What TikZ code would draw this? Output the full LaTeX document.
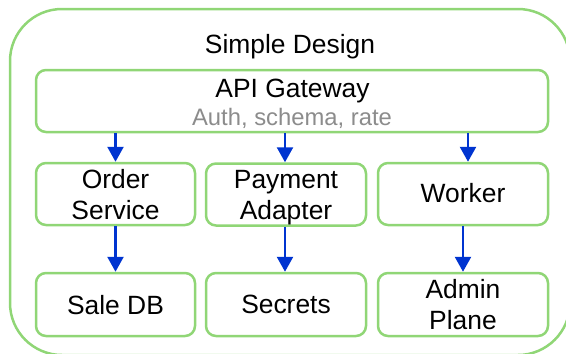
\documentclass[tikz,border=0pt]{standalone}
\usepackage{fontspec}
\setmainfont{Liberation Sans}
\usetikzlibrary{arrows.meta}
\definecolor{boxgreen}{RGB}{144,214,118}
\definecolor{arrowblue}{RGB}{0,52,208}
\definecolor{subgray}{RGB}{140,140,140}
\tikzset{
  box/.style={draw=boxgreen, line width=2.5pt, rounded corners=10pt, fill=white,
    inner sep=0pt, align=center, text depth=0pt, font=\fontsize{26.4}{31}\selectfont},
  smallbox/.style={box, minimum width=159pt, minimum height=62pt},
  label/.style={inner sep=0pt, font=\fontsize{26.4}{31}\selectfont},
  flow/.style={draw=arrowblue, line width=2.5pt,
    -{Triangle[width=16pt,length=15pt]}}
}
\begin{document}
\begin{tikzpicture}[x=1pt,y=-1pt]
\useasboundingbox (0,0) rectangle (566,354);
% outer container
\draw[draw=boxgreen, line width=2.5pt, rounded corners=52pt] (10,9) rectangle (570,355);
\node[label, anchor=base] (title) at (290,53.3) {Simple Design};

% gateway
\node[box, minimum width=512pt, minimum height=62pt] (gw) at (292,101) {};
\node[label, anchor=base] (gwname) at (292.5,97) {API Gateway};
\node[label, anchor=base, text=subgray, font=\fontsize{23.8}{28}\selectfont] (gwsub) at (292,125.5) {Auth, schema, rate};

% service row
\node[smallbox] (order) at (115.5,194) {Order\\Service};
\node[smallbox, minimum width=160pt] (pay) at (286,194.5) {Payment\\Adapter};
\node[smallbox, minimum width=170pt, text height=17pt] (worker) at (463,194) {Worker};

% backing row
\node[smallbox, minimum height=63pt] (db) at (115.5,304.5) {Sale DB};
\node[smallbox, minimum width=160pt, minimum height=63pt] (secrets) at (286,304.5) {Secrets};
\node[smallbox, minimum width=170pt, minimum height=63pt] (admin) at (463,304.5) {Admin\\Plane};

% connectors
\draw[flow] (order.north |- gw.south) -- (order.north);
\draw[flow] ([xshift=-1pt]pay.north |- gw.south) -- ([xshift=-1pt]pay.north);
\draw[flow] ([xshift=5pt]worker.north |- gw.south) -- ([xshift=5pt]worker.north);
\draw[flow] (order.south) -- (db.north);
\draw[flow] ([xshift=-1pt]pay.south) -- ([xshift=-1pt]secrets.north);
\draw[flow] (worker.south) -- (admin.north);
\end{tikzpicture}
\end{document}
